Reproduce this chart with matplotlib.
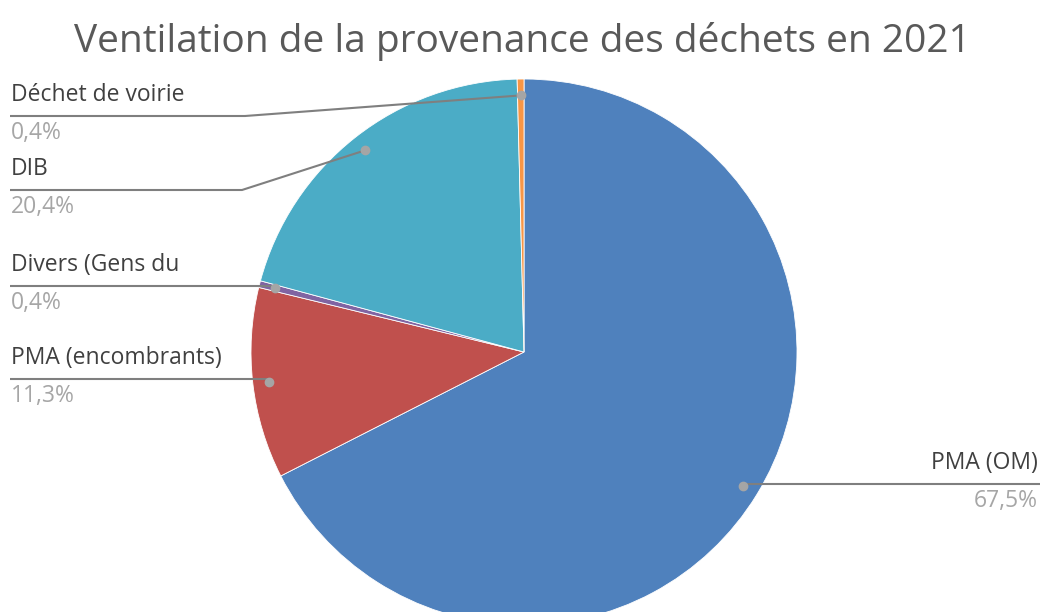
import numpy as np
import matplotlib
matplotlib.use("Agg")
import matplotlib.pyplot as plt

# ---- data (clockwise from 12 o'clock) ----
categories = ["PMA (OM)", "PMA (encombrants)", "Divers (Gens du", "DIB", "Déchet de voirie"]
values = [67.5, 11.3, 0.4, 20.4, 0.4]
colors = ["#4F81BD", "#C0504D", "#8064A2", "#4BACC6", "#F79646"]
title = "Ventilation de la provenance des déchets en 2021"

W, H = 1044, 612
fig = plt.figure(figsize=(W / 100, H / 100), dpi=100)
ax = fig.add_axes([0, 0, 1, 1])

def py(y):
    return H - y

cx, cy, R = 524, py(352), 273
wedges, _ = ax.pie(values, colors=colors, startangle=90, counterclock=False,
                   center=(cx, cy), radius=R, frame=True,
                   wedgeprops=dict(linewidth=0.6, edgecolor="white"))
ax.set_xlim(0, W)
ax.set_ylim(0, H)
ax.set_aspect("equal")
ax.axis("off")

# label layout: (elbow x, line y in px, side)
layout = {
    "PMA (OM)": (None, 484, "right"),
    "PMA (encombrants)": (None, 379, "left"),
    "Divers (Gens du": (None, 286, "left"),
    "DIB": (242, 190, "left"),
    "Déchet de voirie": (245, 116, "left"),
}

font = "Open Sans"
lab_col = "#404040"
pct_col = "#A6A6A6"
line_col = "#7F7F7F"
fs = 16.5

for w, cat, v in zip(wedges, categories, values):
    ang = np.deg2rad((w.theta1 + w.theta2) / 2)
    mx = cx + 0.94 * R * np.cos(ang)
    my = cy + 0.94 * R * np.sin(ang)
    ex, ly, side = layout[cat]
    lyd = py(ly)
    if side == "left":
        xs = [mx, ex if ex else mx, 10]
        ys = [my, lyd, lyd]
        ax.plot(xs, ys, color=line_col, lw=1.5, solid_capstyle="butt", zorder=3)
        tx, ha = 11, "left"
    else:
        ax.plot([mx, 1040], [lyd, lyd], color=line_col, lw=1.5, solid_capstyle="butt", zorder=3)
        tx, ha = 1038, "right"
    ax.plot([mx], [my], "o", ms=6, color="#A5A5A5", zorder=4)
    ax.text(tx, lyd + 15, cat, ha=ha, va="baseline", fontsize=fs, color=lab_col, family=font, zorder=5)
    ax.text(tx, lyd - 23, f"{v:.1f}%".replace(".", ","), ha=ha, va="baseline", fontsize=fs,
            color=pct_col, family=font, zorder=5)

ax.text(522, py(52), title, ha="center", va="baseline", fontsize=28, color="#595959", family=font)

fig.savefig("out.png", dpi=100)
